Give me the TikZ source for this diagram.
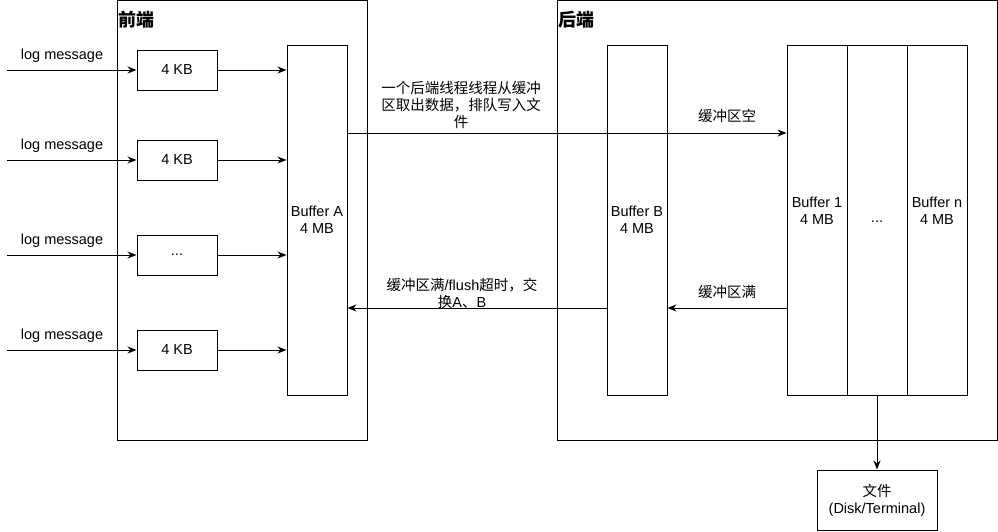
\documentclass[tikz,border=0pt]{standalone}
\usepackage{fontspec}
\setmainfont{Liberation Sans}
\newfontfamily\cjk{Noto Sans CJK SC}
\usetikzlibrary{arrows.meta}
\begin{document}
\begin{tikzpicture}[x=1pt,y=-1pt,
  every node/.style={font=\fontsize{14.5}{17}\selectfont, inner sep=0pt, align=center},
  box/.style={draw, line width=1pt, minimum width=#1},
  small/.style={box=80pt, minimum height=40pt},
  buf/.style={box=60pt, minimum height=350pt},
  lbl/.style={font=\fontsize{14.5}{17}\selectfont\cjk},
  title/.style={font=\fontsize{18}{20}\selectfont\cjk\bfseries, anchor=west},
  arr/.style={line width=1pt, -{Stealth[length=9pt,width=7pt]}}
]
\useasboundingbox (0,0) rectangle (998,531);
% containers
\node[box=250pt, minimum height=439.5pt] (front) at (242,220.25) {};
\node[box=440pt, minimum height=439.5pt] (back) at (777,220.25) {};
\node[title] (tf) at (118,20) {前端};
\node[title] (tb) at (558,20) {后端};
% small buffers
\node[small] (s1) at (177,70) {4 KB};
\node[small] (s2) at (177,160) {4 KB};
\node[small] (s3) at (177,255) {...};
\node[small] (s4) at (177,350) {4 KB};
% big buffers
\node[buf] (bufA) at (317,220) {Buffer A\\4 MB};
\node[buf] (bufB) at (637,220) {Buffer B\\4 MB};
\node[buf] (b1) at (817,220) {};
\node[buf] (bd) at (877,220) {};
\node[buf] (bn) at (937,220) {};
\node (t1) at (817,210.5) {Buffer 1\\4 MB};
\node (td) at (877,222) {...};
\node (tn) at (937,210.5) {Buffer n\\4 MB};
% file
\node[box=120pt, minimum height=60pt] (file) at (877,500) {{\cjk 文件}\\(Disk/Terminal)};
% log messages
\foreach \i/\y in {1/70,2/160,3/255,4/350}{
  \coordinate (l\i) at (7,\y);
  \node (m\i) at (62,\y-14.5) {log message};
  \draw[arr] (l\i) -- (s\i.west);
  \draw[arr] (s\i.east) -- (bufA.west |- s\i);
}
% main connectors
\coordinate (r1) at (0,133);
\coordinate (r2) at (0,308);
\draw[arr] (bufA.east |- r1) -- (b1.west |- r1);
\draw[arr] (bufB.west |- r2) -- (bufA.east |- r2);
\draw[arr] (b1.west |- r2) -- (bufB.east |- r2);
\draw[arr] (bd.south) -- (file.north);
% labels
\node[lbl] (la) at (461,105) {一个后端线程线程从缓冲\\区取出数据，排队写入文\\件};
\node[lbl] (lb) at (727,116) {缓冲区空};
\node (lc) at (462,293) {{\cjk 缓冲区满}/flush{\cjk 超时，交}\\{\cjk 换}A{\cjk 、}B};
\node[lbl] (ld) at (727,292) {缓冲区满};
\end{tikzpicture}
\end{document}
